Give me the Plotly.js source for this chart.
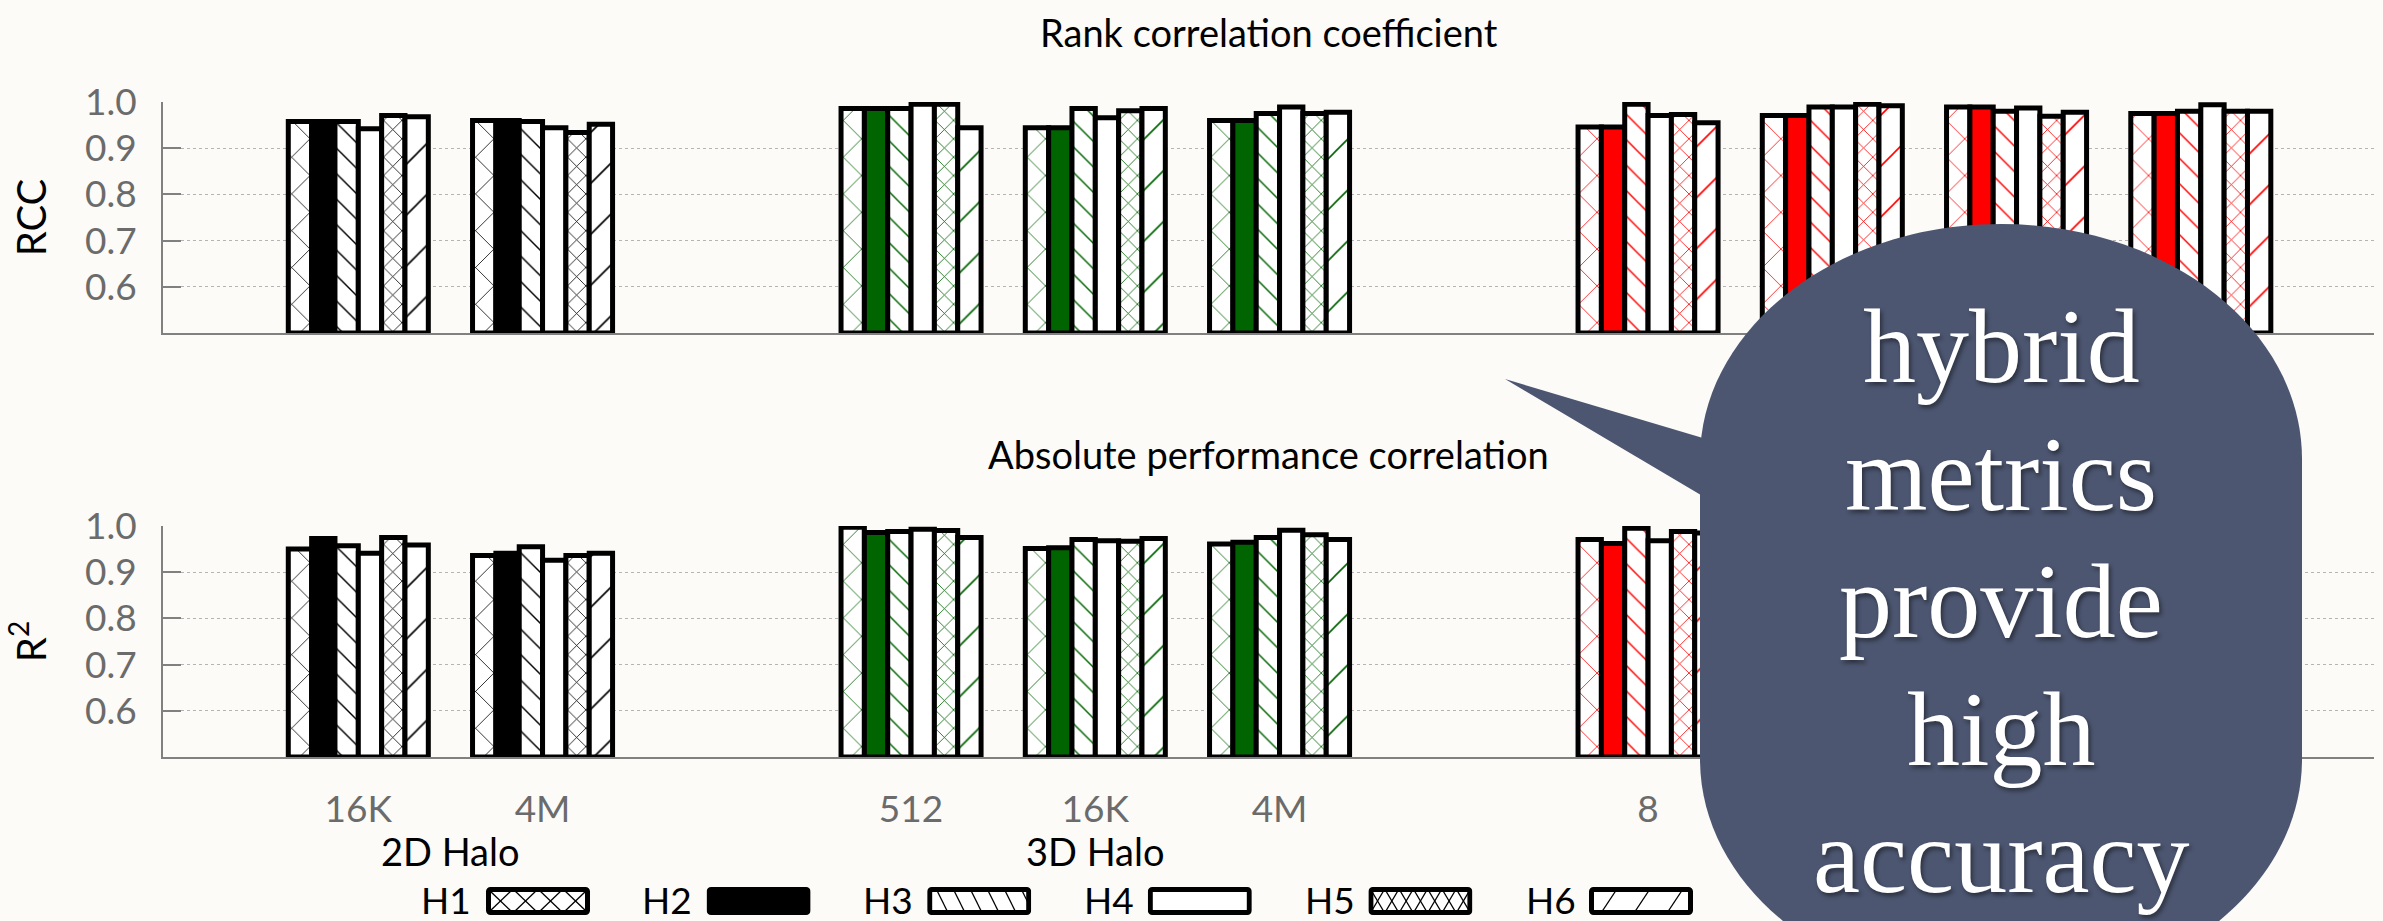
<!DOCTYPE html>
<html>
<head>
<meta charset="utf-8">
<script src="https://cdn.plot.ly/plotly-3.0.1.min.js"></script>
<style>
html,body{margin:0;padding:0;background:#fcfbf8;}
#chart{width:2383px;height:921px;}
</style>
</head>
<body>
<div id="chart"></div>
<script>
// ---------------- data ----------------
const sizeLabels   = ['16K','4M','512','16K','4M','8','','',''];
const familyIndex  = [0,0,1,1,1,2,2,2,2];
const familyLabels = ['2D Halo','3D Halo',''];
const familyColors = ['#000000','#006400','#ff0000'];
const seriesNames  = ['H1','H2','H3','H4','H5','H6'];

// Rank correlation coefficient (RCC)
const rccH1 = [0.958,0.960, 0.986,0.944,0.960, 0.946,0.971,0.989,0.975];
const rccH2 = [0.958,0.960, 0.986,0.944,0.960, 0.946,0.971,0.989,0.975];
const rccH3 = [0.958,0.958, 0.986,0.986,0.975, 0.995,0.989,0.980,0.980];
const rccH4 = [0.942,0.944, 0.995,0.966,0.989, 0.971,0.989,0.987,0.994];
const rccH5 = [0.971,0.934, 0.995,0.981,0.975, 0.973,0.995,0.969,0.980];
const rccH6 = [0.968,0.952, 0.944,0.986,0.978, 0.955,0.992,0.978,0.980];

// Absolute performance correlation (R^2)
const r2H1 = [0.950,0.936, 0.997,0.951,0.961, 0.971,0.985,0.990,0.980];
const r2H2 = [0.973,0.941, 0.986,0.953,0.965, 0.962,0.980,0.990,0.978];
const r2H3 = [0.957,0.955, 0.988,0.971,0.975, 0.995,0.990,0.985,0.982];
const r2H4 = [0.941,0.926, 0.993,0.968,0.991, 0.968,0.992,0.988,0.990];
const r2H5 = [0.975,0.936, 0.990,0.967,0.981, 0.988,0.993,0.975,0.982];
const r2H6 = [0.959,0.941, 0.975,0.973,0.971, 0.985,0.990,0.980,0.982];

const yTickVals = [0.6,0.7,0.8,0.9,1.0];
const calloutLines = ['hybrid','metrics','provide','high','accuracy'];

// ---------------- geometry helpers ----------------
const W = 2383, H = 921, ML = 163, MR = 9, MT = 102, MB = 164;
const PW = W - ML - MR, PH = H - MT - MB;
const px = x => (x - ML) / PW;
const py = y => (H - MB - y) / PH;

const xPos = sizeLabels.map((_, i) => i + familyIndex[i]);
const ptColors = familyIndex.map(f => familyColors[f]);
const BASE = 0.5;
const labelledIdx = sizeLabels.map((l, i) => i).filter(i => sizeLabels[i] !== '');

const patterns = {
  H1: {shape: 'x',  size: 26, solidity: 0.06},
  H3: {shape: '\\', size: 18, solidity: 0.08},
  H5: {shape: 'x',  size: 13, solidity: 0.12},
  H6: {shape: '/',  size: 36, solidity: 0.045}
};

function makeTrace(name, vals, xa, ya) {
  const marker = {line: {color: '#000000', width: 5}};
  if (name === 'H2') {
    marker.color = ptColors;
  } else if (name === 'H4') {
    marker.color = '#ffffff';
  } else {
    const p = patterns[name];
    marker.color = '#ffffff';
    marker.pattern = {shape: p.shape, size: p.size, solidity: p.solidity,
                      fgcolor: ptColors, bgcolor: '#ffffff', fgopacity: 1, fillmode: 'overlay'};
  }
  return {
    type: 'bar', name: name, x: xPos, base: BASE,
    y: vals.map(v => v - BASE),
    customdata: vals, hovertemplate: name + ': %{customdata}<extra></extra>',
    xaxis: xa, yaxis: ya, marker: marker, showlegend: false, cliponaxis: false
  };
}

const rccSeries = [rccH1, rccH2, rccH3, rccH4, rccH5, rccH6];
const r2Series  = [r2H1, r2H2, r2H3, r2H4, r2H5, r2H6];
const traces = [];
seriesNames.forEach((n, i) => traces.push(makeTrace(n, rccSeries[i], 'x', 'y')));
seriesNames.forEach((n, i) => traces.push(makeTrace(n, r2Series[i], 'x2', 'y2')));

// ---------------- axes ----------------
const FONT = 'Lato, "DejaVu Sans", sans-serif';
const tickFont = {family: FONT, size: 37, color: '#6b6b6b'};
function yAxis(domain, anchor, title) {
  return {
    domain: domain, anchor: anchor, range: [0.5, 1.0], fixedrange: true,
    tickvals: yTickVals, ticktext: yTickVals.map(v => v.toFixed(1)),
    ticks: 'inside', ticklen: 18, tickwidth: 2, tickcolor: '#808080',
    showline: true, linecolor: '#808080', linewidth: 2,
    showgrid: true, gridcolor: '#b4b4b4', griddash: 'dot', gridwidth: 1.3,
    zeroline: false, tickfont: tickFont, ticklabelstandoff: 17,
    title: {text: title, font: {family: FONT, size: 40, color: '#000'}, standoff: 26}
  };
}
const xCommon = {
  domain: [0, 1], range: [-1.06, 10.94], fixedrange: true,
  showgrid: false, zeroline: false, ticks: '',
  showline: true, linecolor: '#808080', linewidth: 2
};

// ---------------- annotations ----------------
const annotations = [];
annotations.push({text: 'Rank correlation coefficient', xref: 'paper', yref: 'paper',
  x: 0.5, y: py(31.5), xanchor: 'center', yanchor: 'middle', showarrow: false,
  font: {family: FONT, size: 38, color: '#000'}});
annotations.push({text: 'Absolute performance correlation', xref: 'paper', yref: 'paper',
  x: 0.5, y: py(454.5), xanchor: 'center', yanchor: 'middle', showarrow: false,
  font: {family: FONT, size: 38, color: '#000'}});
familyLabels.forEach((lab, f) => {
  if (!lab) return;
  const xs = xPos.filter((_, i) => familyIndex[i] === f);
  const c = xs.reduce((s, v) => s + v, 0) / xs.length;
  annotations.push({text: lab, xref: 'x2', yref: 'paper', x: c, y: py(851),
    xanchor: 'center', yanchor: 'middle', showarrow: false,
    font: {family: FONT, size: 38, color: '#000'}});
});
seriesNames.forEach((n, i) => {
  annotations.push({text: n, xref: 'paper', yref: 'paper', x: px(419 + i * 221), y: py(899),
    xanchor: 'left', yanchor: 'middle', showarrow: false,
    font: {family: FONT, size: 37, color: '#000'}});
});
const baselines = [382, 510, 637, 765.5, 892];
calloutLines.forEach((t, i) => {
  annotations.push({text: t, xref: 'paper', yref: 'paper', x: px(2001), y: py(baselines[i] - 36),
    xanchor: 'center', yanchor: 'middle', showarrow: false,
    font: {family: '"Liberation Serif", "DejaVu Serif", serif', size: 106, color: '#ffffff',
           shadow: '2px 3px 4px rgba(0,0,0,0.45)'}});
});

// ---------------- legend swatches (images) ----------------
function swatch(name) {
  const w = 104, h = 28;
  const ln = (x1, y1, x2, y2) => `<line x1="${x1}" y1="${y1}" x2="${x2}" y2="${y2}" stroke="#000" stroke-width="1.3"/>`;
  let inner = '', fill = '#ffffff';
  if (name === 'H1') { for (let i = 0; i < 4; i++) { const x0 = 2 + i * 25; inner += ln(x0, 2, x0 + 25, 26) + ln(x0 + 25, 2, x0, 26); } }
  if (name === 'H2') { fill = '#000000'; }
  if (name === 'H3') { for (let x = -8; x < 104; x += 17) inner += ln(x, 2, x + 12, 26); }
  if (name === 'H5') { for (let i = 0; i < 7; i++) { const x0 = 2 + i * 14.3; inner += ln(x0, 2, x0 + 14.3, 26) + ln(x0 + 14.3, 2, x0, 26); } }
  if (name === 'H6') { for (let x = 12; x < 104; x += 33) inner += ln(x, 26, x + 16, 2); }
  const svg = `<svg xmlns="http://www.w3.org/2000/svg" width="${w}" height="${h}" viewBox="0 0 ${w} ${h}">` +
    `<defs><clipPath id="c"><rect x="2" y="2" width="${w - 4}" height="${h - 4}"/></clipPath></defs>` +
    `<rect x="2.5" y="2.5" width="${w - 5}" height="${h - 5}" rx="2" fill="${fill}"/>` +
    `<g clip-path="url(#c)">${inner}</g>` +
    `<rect x="2.5" y="2.5" width="${w - 5}" height="${h - 5}" rx="2" fill="none" stroke="#000" stroke-width="5"/></svg>`;
  return 'data:image/svg+xml;charset=utf-8,' + encodeURIComponent(svg);
}
const images = seriesNames.map((n, i) => ({
  source: swatch(n), xref: 'paper', yref: 'paper',
  x: px(486 + i * 220.6), y: py(887), sizex: 104 / PW, sizey: 28 / PH,
  xanchor: 'left', yanchor: 'top', sizing: 'stretch', layer: 'above'
}));

// ---------------- callout bubble ----------------
function P(x, y) { return px(x).toFixed(5) + ',' + py(y).toFixed(5); }
const cx = 2001, a = 301, b = 235, yt = 459, yb = 759, k = 0.5523;
const bodyPath = 'M' + P(cx - a, yt) +
  ' C' + P(cx - a, yt - k * b) + ' ' + P(cx - k * a, yt - b) + ' ' + P(cx, yt - b) +
  ' C' + P(cx + k * a, yt - b) + ' ' + P(cx + a, yt - k * b) + ' ' + P(cx + a, yt) +
  ' L' + P(cx + a, yb) +
  ' C' + P(cx + a, yb + k * b) + ' ' + P(cx + k * a, yb + b) + ' ' + P(cx, yb + b) +
  ' C' + P(cx - k * a, yb + b) + ' ' + P(cx - a, yb + k * b) + ' ' + P(cx - a, yb) + ' Z';
const tailPath = 'M' + P(1505, 379) + ' L' + P(1760, 455) + ' L' + P(1760, 530) + ' Z';
const bubbleColor = '#4c5670';
const shapes = [
  {type: 'path', xref: 'paper', yref: 'paper', path: tailPath, fillcolor: bubbleColor, line: {width: 0}, layer: 'above'},
  {type: 'path', xref: 'paper', yref: 'paper', path: bodyPath, fillcolor: bubbleColor, line: {width: 0}, layer: 'above'}
];

const layout = {
  width: W, height: H,
  margin: {l: ML, r: MR, t: MT, b: MB, pad: 0},
  paper_bgcolor: '#fcfbf8', plot_bgcolor: '#fcfbf8',
  barmode: 'group', bargap: 0.24, bargroupgap: 0,
  showlegend: false,
  font: {family: FONT, size: 35, color: '#000'},
  xaxis: Object.assign({}, xCommon, {anchor: 'y', showticklabels: false}),
  xaxis2: Object.assign({}, xCommon, {anchor: 'y2', matches: 'x',
    tickvals: labelledIdx.map(i => xPos[i]), ticktext: labelledIdx.map(i => sizeLabels[i]),
    tickfont: tickFont, ticklabelstandoff: 19}),
  yaxis: yAxis([0.6473, 1], 'x', 'RCC'),
  yaxis2: yAxis([0, 0.3527], 'x2', 'R<sup>2</sup>'),
  annotations: annotations,
  images: images,
  shapes: shapes
};

Plotly.newPlot('chart', traces, layout, {displayModeBar: false, staticPlot: true});
</script>
</body>
</html>
